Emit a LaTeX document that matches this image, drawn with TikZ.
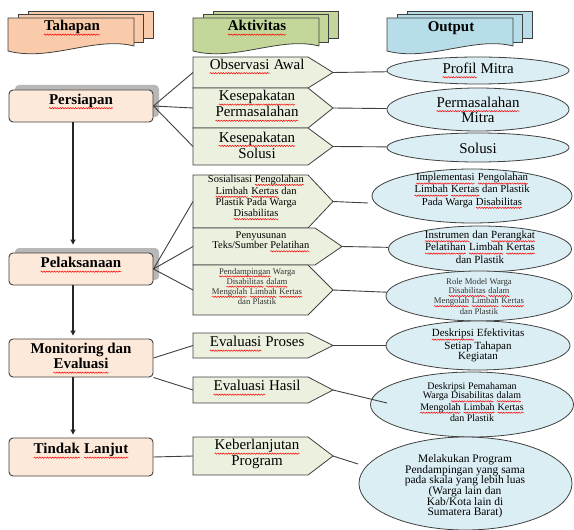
\documentclass[tikz,border=0pt]{standalone}
\usepackage{fontspec}
\setmainfont{Liberation Serif}
\usetikzlibrary{shapes.geometric,shadows,arrows.meta,decorations.pathmorphing}
\newsavebox\sqbox
\newlength\sqlen
\newcommand\sq[1]{\sbox\sqbox{#1}\setlength\sqlen{\wd\sqbox}\tikz[baseline=0pt]{\node[inner sep=0pt,outer sep=0pt,anchor=base west] (sqw) at (0pt,0pt) {\usebox\sqbox};\draw[red,line width=0.5pt,decorate,decoration={snake,amplitude=0.65pt,segment length=2.6pt}] (0pt,-0.26em) -- (\sqlen,-0.26em);}}
\newcommand\setfs[2]{\fontsize{#1}{#2}\selectfont}
\definecolor{tahfill}{HTML}{F9CBAA}
\definecolor{aktfill}{HTML}{C4D79B}
\definecolor{outfill}{HTML}{B7DDE8}
\definecolor{stagefill}{HTML}{FDE9D9}
\definecolor{actfill}{HTML}{EBF1DE}
\definecolor{elfill}{HTML}{DBEEF4}
\definecolor{edgec}{HTML}{404040}
\tikzset{
 hdr/.style={draw=edgec, line width=0.8bp, fill=#1},
 stagebox/.style={draw=edgec, line width=0.9bp, fill=stagefill, rounded corners=4bp, minimum width=144bp, inner sep=0pt},
 shadowed/.style={drop shadow={shadow xshift=6bp, shadow yshift=5bp, fill=black!28, opacity=1}},
 actbox/.style={draw=edgec, line width=0.8bp, fill=actfill},
 outel/.style={ellipse, draw=edgec, line width=0.8bp, fill=elfill, inner sep=0pt},
 txt/.style={align=center, inner sep=0pt, text=black},
 conn/.style={draw=edgec, line width=0.9bp},
 flow/.style={draw=black!85, line width=1.1bp, -{Triangle[length=5bp,width=5bp]}},
 stagefont/.style={font=\setfs{15}{15}\bfseries},
 bigfont/.style={font=\setfs{15}{14}},
 elbig/.style={font=\setfs{15}{13}},
}
\newcommand\hdrshape[4]{%
 \begin{scope}[xshift=#1bp]
  \filldraw[hdr=#2] (28,11) rectangle (153,38);
  \filldraw[hdr=#2] (18,14.5) rectangle (143,42);
  \filldraw[hdr=#2] (8,18) -- (134,18) -- (134,46) .. controls (95,36) and (50,62) .. (8,51) -- cycle;
  \node[txt, font=\setfs{15}{16}\bfseries] (#3) at (72,28) {#4};
 \end{scope}}
\newcommand\actshape[5]{%
 \draw[actbox] (193,#2) -- (#4,#2) -- (#5,{(#2+#3)/2}) -- (#4,#3) -- (193,#3) -- cycle;
 \coordinate (#1-w) at (193,{(#2+#3)/2});
 \coordinate (#1-e) at (#5,{(#2+#3)/2});}
\begin{document}
\begin{tikzpicture}[x=1bp,y=-1bp]
\fill[white] (0,0) rectangle (574,530);
\useasboundingbox (0,0) rectangle (574,530);

% headers
\hdrshape{0}{tahfill}{tah}{\sq{Tahapan}}
\hdrshape{185}{aktfill}{akt}{\sq{Aktivitas}}
\hdrshape{379}{outfill}{outp}{Output}

% stages
\node[stagebox, shadowed, minimum height=32bp] (pers) at (81,106) {};
\node[txt, stagefont] (pers-t) at (81,101.5) {\sq{Persiapan}};
\node[stagebox, shadowed, minimum height=32bp] (pel) at (81,269) {};
\node[txt, stagefont] (pel-t) at (81,265) {\sq{Pelaksanaan}};
\node[stagebox, minimum height=38bp] (mon) at (81,358) {};
\node[txt, stagefont] (mon-t) at (81,358.5) {Monitoring dan\\\sq{Evaluasi}};
\node[stagebox, minimum height=38bp] (tin) at (81,457) {};
\node[txt, stagefont] (tin-t) at (81,451) {\sq{Tindak} \sq{Lanjut}};

\draw[flow, shorten >=8bp] ([xshift=-8bp]pers.south) -- ([xshift=-8bp]pel.north);
\draw[flow, shorten >=3bp] ([xshift=-8bp]pel.south) -- ([xshift=-8bp]mon.north);
\draw[flow, shorten >=3bp] ([xshift=-8bp]mon.south) -- ([xshift=-8bp]tin.north);

% activities
\actshape{obs}{57}{88}{308}{333}
\actshape{kp}{88}{128}{308}{333}
\actshape{ks}{128}{165}{308}{333}
\actshape{sos}{175}{228}{308}{333}
\actshape{pny}{228}{265}{315}{342}
\actshape{pdp}{265}{315}{308}{333}
\actshape{evp}{333}{358}{308}{333}
\actshape{evh}{377}{403}{308}{333}
\actshape{keb}{437}{475}{308}{333}

\node[txt, bigfont] (obs-t) at (257,66.5) {\sq{Observasi} Awal};
\node[txt, bigfont] (kp-t) at (257,106) {\sq{Kesepakatan}\\\sq{Permasalahan}};
\node[txt, bigfont] (ks-t) at (257,145) {\sq{Kesepakatan}\\Solusi};
\node[txt, font=\setfs{10.5}{10.5}] (sos-t) at (256,197.5) {Sosialisasi \sq{Pengolahan}\\\sq{Limbah} \sq{Kertas} dan\\Plastik Pada Warga\\\sq{Disabilitas}};
\node[txt, font=\setfs{10.5}{10}] (pny-t) at (261,242) {Penyusunan\\Teks/Sumber \sq{Pelatihan}};
\node[txt, font=\setfs{8.7}{9}, text=black!80] (pdp-t) at (257,286.5) {\sq{Pendampingan} Warga\\\sq{Disabilitas} \sq{dalam}\\\sq{Mengolah} \sq{Limbah} \sq{Kertas}\\dan Plastik};
\node[txt, bigfont] (evp-t) at (257,344) {\sq{Evaluasi} Proses};
\node[txt, bigfont] (evh-t) at (257,388) {\sq{Evaluasi} Hasil};
\node[txt, bigfont] (keb-t) at (257,454) {\sq{Keberlanjutan}\\Program};

% outputs
\node[outel, minimum width=182bp, minimum height=27bp] (prof) at (478,70.5) {};
\node[outel, minimum width=182bp, minimum height=43bp] (perm) at (478,109.5) {};
\node[outel, minimum width=182bp, minimum height=29bp] (sol) at (478,147.5) {};
\node[outel, minimum width=200bp, minimum height=54bp] (impl) at (472,196) {};
\node[outel, minimum width=183bp, minimum height=46bp] (inst) at (480,249) {};
\node[outel, minimum width=186bp, minimum height=50bp] (role) at (479,296) {};
\node[outel, minimum width=184bp, minimum height=49bp] (defek) at (478,345.5) {};
\node[outel, minimum width=203bp, minimum height=65bp] (dpem) at (472,404.5) {};
\node[outel, minimum width=213bp, minimum height=93bp] (mel) at (465.5,483.5) {};

\node[txt, elbig] (prof-t) at (478,70.5) {\sq{Profil} Mitra};
\node[txt, elbig] (perm-t) at (478,110) {\sq{Permasalahan}\\Mitra};
\node[txt, elbig] (sol-t) at (478,148) {Solusi};
\node[txt, font=\setfs{10.8}{10}] (impl-t) at (472,191) {\sq{Implementasi} \sq{Pengolahan}\\\sq{Limbah} \sq{Kertas} dan Plastik\\Pada Warga \sq{Disabilitas}};
\node[txt, font=\setfs{11}{9.5}] (inst-t) at (480,247) {\sq{Instrumen} dan \sq{Perangkat}\\\sq{Pelatihan} \sq{Limbah} \sq{Kertas}\\dan Plastik};
\node[txt, font=\setfs{8.7}{9}, text=black!80] (role-t) at (479,296.5) {Role Model Warga\\\sq{Disabilitas} \sq{dalam}\\\sq{Mengolah} \sq{Limbah} \sq{Kertas}\\dan Plastik};
\node[txt, font=\setfs{11}{10.5}] (defek-t) at (478,345.5) {\sq{Deskripsi} Efektivitas\\Setiap Tahapan\\Kegiatan};
\node[txt, font=\setfs{10}{9.5}] (dpem-t) at (472,402) {Deskripsi Pemahaman\\Warga \sq{Disabilitas} \sq{dalam}\\\sq{Mengolah} \sq{Limbah} \sq{Kertas}\\dan Plastik};
\node[txt, font=\setfs{11.5}{10.6}] (mel-t) at (465,486.5) {Melakukan Program\\Pendampingan yang sama\\pada skala yang lebih luas\\(Warga lain dan\\Kab/Kota lain di\\Sumatera Barat)};

% free ends
\coordinate (sosend) at (368,203);
\coordinate (evhend) at (387,403);
\coordinate (kebend) at (358,464);

% connectors
\draw[conn] (pers.east) -- (obs-w);
\draw[conn] (pers.east) -- (kp-w);
\draw[conn] (pers.east) -- (ks-w);
\draw[conn] (pel.east) -- (sos-w);
\draw[conn] (pel.east) -- (pny-w);
\draw[conn] (pel.east) -- (pdp-w);
\draw[conn] (mon.east) -- (evp-w);
\draw[conn] (mon.south east) -- (evh-w);
\draw[conn] (tin.east) -- (keb-w);

\draw[conn] (obs-e) -- (prof);
\draw[conn] (kp-e) -- (perm);
\draw[conn] (ks-e) -- (sol);
\draw[conn] (sos-e) -- (sosend);
\draw[conn] (pny-e) -- (inst);
\draw[conn] (pdp-e) -- (role);
\draw[conn] (evp-e) -- (defek);
\draw[conn] (evh-e) -- (evhend);
\draw[conn] (keb-e) -- (kebend);
\end{tikzpicture}
\end{document}
